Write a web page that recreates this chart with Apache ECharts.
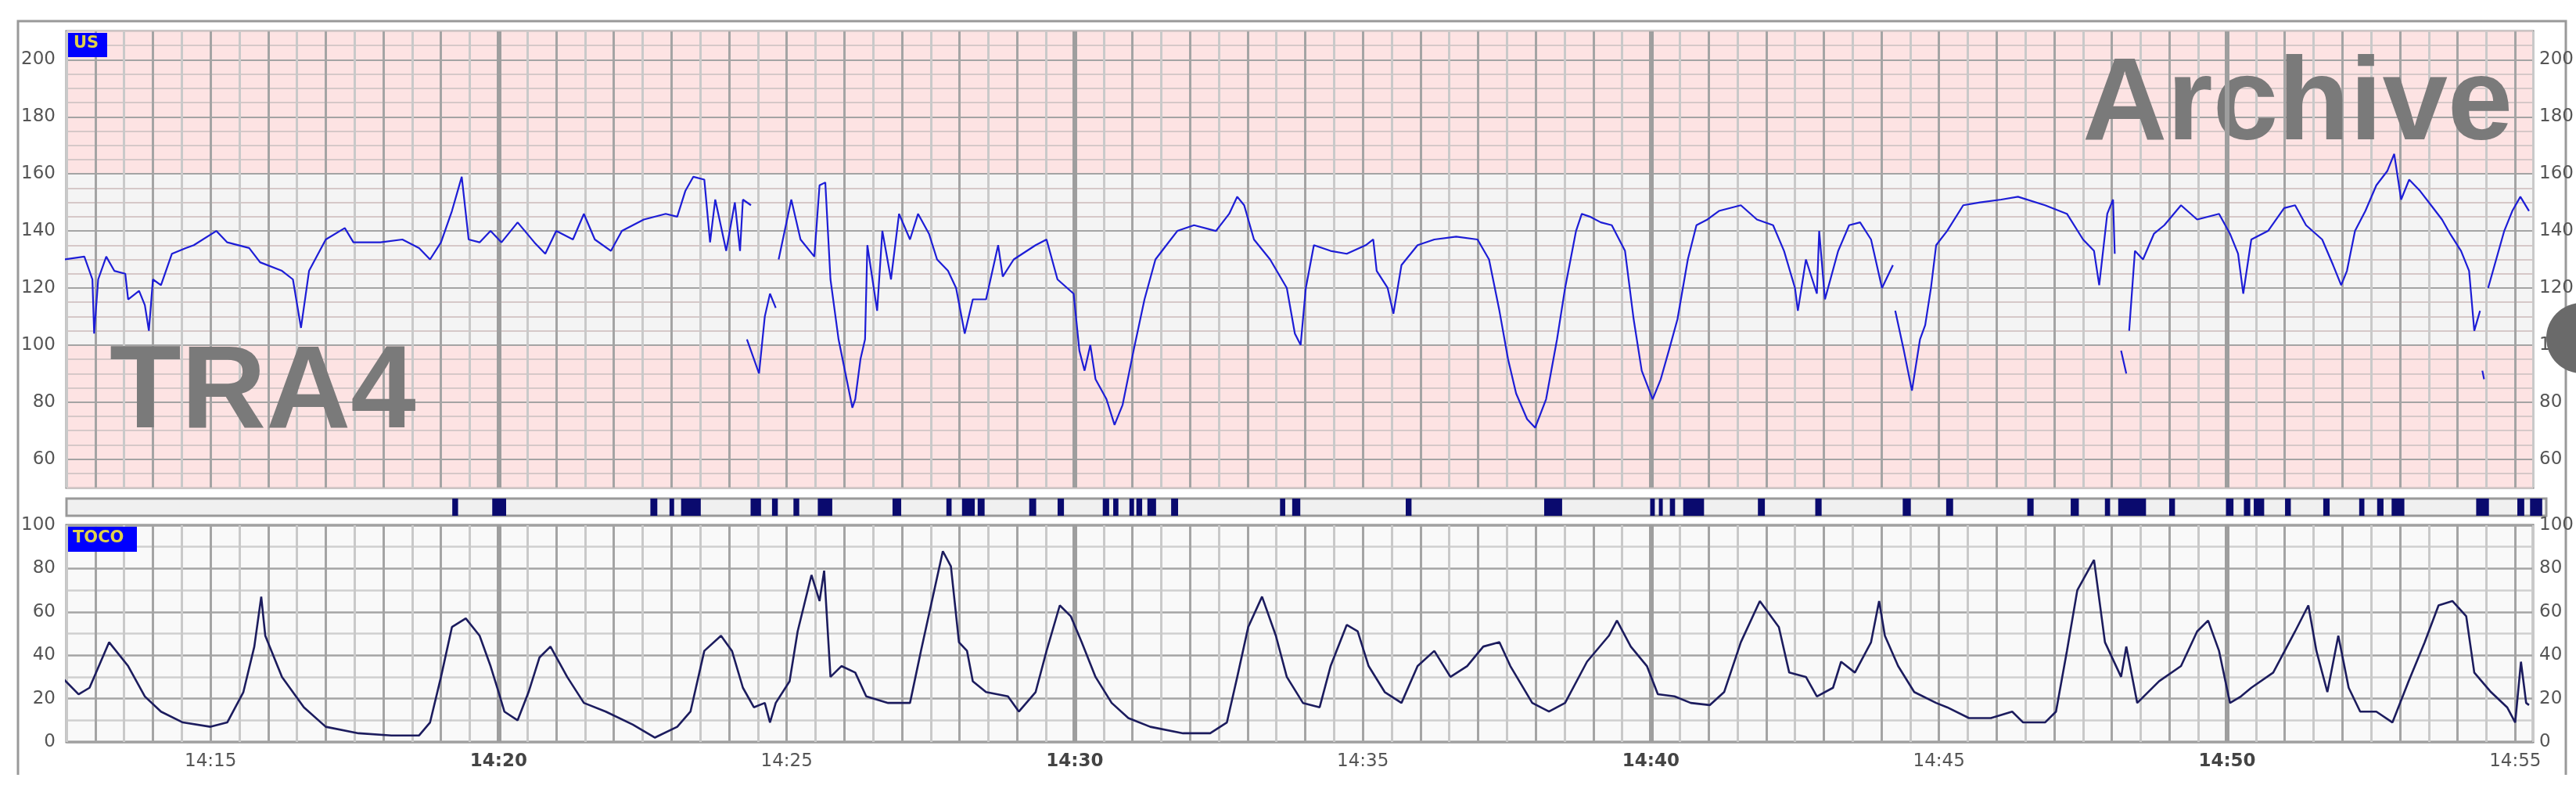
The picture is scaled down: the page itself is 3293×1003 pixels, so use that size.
<!DOCTYPE html>
<html>
<head>
<meta charset="utf-8">
<script src="https://cdn.jsdelivr.net/npm/echarts@6/dist/echarts.min.js"></script>
<style>
  html, body { margin: 0; padding: 0; background: #fff; }
  #ctg { width: 3293px; height: 1003px; }
</style>
</head>
<body>
<div id="ctg"></div>
<script>
// time = minutes after 14:00
var timeTicks = [15, 20, 25, 30, 35, 40, 45, 50, 55];
var boldTicks = [20, 30, 40, 50];
var usBands = [[50, 100, 'pink'], [100, 160, 'grey'], [160, 210, 'pink']];

// fetal heart rate (bpm), null = signal loss
var usTrace = [
  [12.45,130],[12.81,131],[12.95,123],[12.98,104],[13.05,123],[13.19,131],[13.33,126],[13.52,125],[13.57,116],[13.76,119],
  [13.86,114],[13.93,105],[14.00,123],[14.14,121],[14.33,132],[14.57,134],[14.71,135],[15.10,140],[15.29,136],[15.67,134],
  [15.86,129],[16.24,126],[16.43,123],[16.57,106],[16.71,126],[17.00,137],[17.33,141],[17.48,136],[17.95,136],[18.33,137],
  [18.62,134],[18.81,130],[19.00,136],[19.19,147],[19.36,159],[19.48,137],[19.67,136],[19.86,140],[20.05,136],[20.33,143],
  [20.62,136],[20.81,132],[21.00,140],[21.29,137],[21.48,146],[21.67,137],[21.95,133],[22.14,140],[22.52,144],[22.90,146],
  [23.10,145],[23.24,154],[23.38,159],[23.57,158],[23.67,136],[23.76,151],[23.95,133],[24.10,150],[24.19,133],[24.24,151],
  [24.38,149],[24.40,null],
  [24.31,102],[24.52,90],[24.62,110],[24.71,118],[24.81,113],[24.83,null],
  [24.86,130],[25.08,151],[25.24,137],[25.48,131],[25.57,156],[25.67,157],[25.76,123],[25.90,102],[26.14,78],
  [26.19,81],[26.28,95],[26.36,102],[26.40,135],[26.57,112],[26.66,140],[26.81,123],[26.95,146],[27.14,137],[27.28,146],
  [27.47,139],[27.61,130],[27.80,126],[27.94,120],[28.09,104],[28.23,116],[28.46,116],[28.67,135],[28.75,124],[28.94,130],
  [29.32,135],[29.51,137],[29.70,123],[29.98,118],[30.08,98],[30.17,91],[30.27,100],[30.36,88],[30.55,81],[30.69,72],
  [30.83,79],[31.02,98],[31.21,116],[31.40,130],[31.59,135],[31.78,140],[32.07,142],[32.45,140],[32.68,146],[32.82,152],
  [32.94,149],[33.11,137],[33.39,130],[33.68,120],[33.82,104],[33.92,100],[34.01,120],[34.15,135],[34.44,133],[34.72,132],
  [35.05,135],[35.18,137],[35.24,126],[35.43,120],[35.53,111],[35.67,128],[35.95,135],[36.24,137],[36.62,138],[36.99,137],
  [37.19,130],[37.37,112],[37.52,95],[37.66,83],[37.85,74],[37.99,71],[38.18,81],[38.37,102],[38.51,120],[38.70,140],
  [38.80,146],[38.94,145],[39.13,143],[39.32,142],[39.55,133],[39.70,109],[39.84,91],[40.03,81],[40.17,88],[40.31,98],
  [40.46,109],[40.64,130],[40.79,142],[40.98,144],[41.18,147],[41.56,149],[41.84,144],[42.12,142],[42.31,133],[42.50,120],
  [42.55,112],[42.69,130],[42.88,118],[42.92,140],[43.02,116],[43.25,133],[43.44,142],[43.63,143],[43.82,137],[44.01,120],
  [44.20,128],[44.22,null],
  [44.24,112],[44.39,98],[44.53,84],[44.67,102],[44.76,107],[44.86,120],[44.95,135],[45.14,140],[45.42,149],[45.71,150],
  [46.08,151],[46.37,152],[46.84,149],[47.22,146],[47.50,137],[47.69,133],[47.78,121],[47.92,146],[48.02,151],[48.05,132],
  [48.10,null],
  [48.16,98],[48.25,90],[48.27,null],
  [48.30,105],[48.40,133],[48.54,130],[48.73,139],[48.91,142],[49.20,149],[49.48,144],[49.86,146],[50.05,139],[50.19,132],
  [50.28,118],[50.42,137],[50.71,140],[50.99,148],[51.18,149],[51.37,142],[51.65,137],[51.84,128],[51.98,121],[52.08,126],
  [52.22,140],[52.40,147],[52.59,156],[52.78,161],[52.90,167],[53.02,151],[53.16,158],[53.35,154],[53.54,149],[53.73,144],
  [53.87,139],[54.06,133],[54.20,126],[54.29,105],[54.39,112],[54.41,null],
  [54.43,91],[54.46,88],[54.48,null],
  [54.53,120],[54.67,130],[54.81,140],[54.95,147],[55.09,152],[55.24,147]
];

// uterine activity (TOCO)
var tocoTrace = [
  [12.45,29],[12.71,22],[12.90,25],[13.24,46],[13.57,35],[13.86,21],[14.14,14],[14.52,9],[15.00,7],[15.29,9],
  [15.57,23],[15.76,44],[15.88,67],[15.95,49],[16.24,30],[16.62,16],[17.00,7],[17.57,4],[18.14,3],[18.62,3],
  [18.81,9],[19.00,30],[19.19,53],[19.43,57],[19.67,49],[19.86,35],[20.00,23],[20.10,14],[20.33,10],[20.52,23],
  [20.71,39],[20.90,44],[21.19,30],[21.48,18],[21.86,14],[22.33,8],[22.71,2],[23.10,7],[23.33,14],[23.57,42],
  [23.86,49],[24.05,42],[24.24,25],[24.43,16],[24.62,18],[24.71,9],[24.81,18],[25.05,28],[25.19,51],[25.43,77],
  [25.57,65],[25.65,79],[25.76,30],[25.95,35],[26.19,32],[26.38,21],[26.76,18],[27.14,18],[27.33,42],[27.52,65],
  [27.71,88],[27.85,81],[27.99,46],[28.13,42],[28.23,28],[28.46,23],[28.84,21],[29.03,14],[29.32,23],[29.51,42],
  [29.74,63],[29.93,58],[30.12,46],[30.36,30],[30.64,18],[30.93,11],[31.31,7],[31.88,4],[32.35,4],[32.64,9],
  [32.82,30],[33.01,53],[33.25,67],[33.49,49],[33.68,30],[33.96,18],[34.25,16],[34.44,35],[34.72,54],[34.91,51],
  [35.10,35],[35.38,23],[35.67,18],[35.95,35],[36.24,42],[36.52,30],[36.81,35],[37.09,44],[37.37,46],[37.56,35],
  [37.94,18],[38.23,14],[38.51,18],[38.89,37],[39.27,49],[39.41,56],[39.65,44],[39.93,35],[40.12,22],[40.41,21],
  [40.69,18],[41.02,17],[41.27,23],[41.56,46],[41.89,65],[42.22,53],[42.40,32],[42.69,30],[42.88,21],[43.16,25],
  [43.30,37],[43.54,32],[43.82,46],[43.96,65],[44.06,49],[44.29,35],[44.57,23],[44.95,18],[45.14,16],[45.52,11],
  [45.90,11],[46.27,14],[46.46,9],[46.84,9],[47.03,14],[47.22,42],[47.40,70],[47.69,84],[47.88,46],[48.16,30],
  [48.25,44],[48.44,18],[48.82,28],[49.20,35],[49.48,51],[49.67,56],[49.86,42],[50.05,18],[50.24,21],[50.42,25],
  [50.80,32],[51.18,51],[51.41,63],[51.55,42],[51.74,23],[51.93,49],[52.11,25],[52.31,14],[52.59,14],[52.87,9],
  [53.15,28],[53.43,46],[53.67,63],[53.91,65],[54.15,58],[54.29,32],[54.58,23],[54.86,16],[55.00,9],[55.10,37],
  [55.19,18],[55.24,17]
];

// fetal movement marks [start, end]
var movementMarks = [
  [19.16,19.26],[19.85,20.09],[22.58,22.70],[22.91,22.99],[23.11,23.45],[24.31,24.49],[24.68,24.78],[25.05,25.15],
  [25.47,25.72],[26.76,26.91],[27.69,27.78],[27.96,28.18],[28.23,28.35],[29.12,29.24],[29.61,29.72],[30.39,30.50],
  [30.57,30.66],[30.85,30.93],[30.97,31.07],[31.16,31.31],[31.57,31.69],[33.45,33.54],[33.66,33.80],[35.62,35.72],
  [38.01,38.32],[39.84,39.92],[39.99,40.05],[40.18,40.27],[40.41,40.77],[41.70,41.82],[42.69,42.80],[44.20,44.34],
  [44.95,45.07],[46.35,46.46],[47.10,47.24],[47.69,47.78],[47.92,48.40],[48.80,48.90],[49.78,49.91],[50.09,50.20],
  [50.26,50.44],[50.80,50.90],[51.46,51.57],[52.08,52.17],[52.39,52.50],[52.64,52.86],[54.10,54.32],[54.81,54.93],
  [55.03,55.24]
];

var T_MIN = 12.5, T_MAX = 55.31;
var font = 'DejaVu Sans';
var lbl = { color: '#555', fontSize: 23, fontFamily: font };
var thick = boldTicks.map(function (t) { return { xAxis: t }; });

// one colour per 5-bpm band, from the band table
var bandColors = [];
usBands.forEach(function (b) {
  for (var v = b[0]; v < b[1]; v += 5) bandColors.push(b[2] === 'pink' ? '#fde3e3' : '#f4f4f4');
});

function xAxisFor(gi, showLabels) {
  return {
    type: 'value', gridIndex: gi, min: T_MIN, max: T_MAX, interval: 0.5,
    axisLine: { show: false }, axisTick: { show: false },
    splitLine: { show: gi !== 1, lineStyle: { color: ['#c9c9c9', '#a4a4a4'], width: 3 } },
    axisLabel: {
      show: showLabels, showMaxLabel: false, hideOverlap: false, margin: 14,
      color: '#555', fontSize: 23, fontFamily: font,
      formatter: function (v) {
        var m = Math.round(v * 2) / 2;
        if (timeTicks.indexOf(m) < 0) return '';
        var s = '14:' + m;
        return boldTicks.indexOf(m) >= 0 ? '{b|' + s + '}' : s;
      },
      rich: { b: { fontWeight: 'bold', color: '#444', fontSize: 23, fontFamily: font } }
    }
  };
}

function yLabels(step, lo, hi) {
  return function (v) { return (v % step === 0 && v >= lo && v <= hi) ? String(v) : ''; };
}

var chart = echarts.init(document.getElementById('ctg'));
chart.setOption({
  animation: false,
  backgroundColor: '#ffffff',
  grid: [
    { left: 85, right: 38, top: 40, height: 583, show: true, borderColor: '#888', borderWidth: 3, backgroundColor: 'transparent' },
    { left: 85, right: 38, top: 637, height: 22, show: true, borderColor: '#999', borderWidth: 3, backgroundColor: '#f0f0f0' },
    { left: 85, right: 38, top: 671, height: 277, show: true, borderColor: '#888', borderWidth: 3, backgroundColor: '#f9f9f9' }
  ],
  xAxis: [xAxisFor(0, false), xAxisFor(1, false), xAxisFor(2, true)],
  yAxis: [
    { type: 'value', gridIndex: 0, min: 50, max: 210, interval: 5, axisLine: { show: false }, axisTick: { show: false },
      splitArea: { show: true, areaStyle: { color: bandColors } },
      splitLine: { lineStyle: { color: ['#d6c8c8', '#d6c8c8', '#a4a4a4', '#d6c8c8'], width: 2 } },
      axisLabel: Object.assign({ formatter: yLabels(20, 60, 200), margin: 14, showMaxLabel: false }, lbl) },
    { type: 'value', gridIndex: 0, position: 'right', min: 50, max: 210, interval: 5, axisLine: { show: false }, axisTick: { show: false },
      splitLine: { show: false }, axisLabel: Object.assign({ formatter: yLabels(20, 60, 200), margin: 8, showMaxLabel: false }, lbl) },
    { type: 'value', gridIndex: 1, min: 0, max: 1, show: false },
    { type: 'value', gridIndex: 2, min: 0, max: 100, interval: 10, axisLine: { show: false }, axisTick: { show: false },
      splitLine: { lineStyle: { color: ['#a4a4a4', '#cfcfcf'], width: 2.5 } },
      axisLabel: Object.assign({ formatter: yLabels(20, 0, 100), margin: 14 }, lbl) },
    { type: 'value', gridIndex: 2, position: 'right', min: 0, max: 100, interval: 10, axisLine: { show: false }, axisTick: { show: false },
      splitLine: { show: false }, axisLabel: Object.assign({ formatter: yLabels(20, 0, 100), margin: 8 }, lbl) }
  ],
  series: [
    {
      name: 'US', type: 'line', xAxisIndex: 0, yAxisIndex: 0, data: usTrace, showSymbol: false, connectNulls: false,
      lineStyle: { color: '#1d1dd6', width: 2.2 }, z: 5,
      markLine: { silent: true, symbol: 'none', label: { show: false }, lineStyle: { color: '#9e9e9e', width: 6, type: 'solid' }, data: thick }
    },
    {
      name: 'Movement', type: 'custom', xAxisIndex: 1, yAxisIndex: 2, data: movementMarks,
      renderItem: function (params, api) {
        var a = api.coord([api.value(0), 0]);
        var b = api.coord([api.value(1), 1]);
        return { type: 'rect', shape: { x: a[0], y: b[1], width: Math.max(b[0] - a[0], 5), height: a[1] - b[1] },
                 style: { fill: '#0a0a6e' } };
      }
    },
    {
      name: 'TOCO', type: 'line', xAxisIndex: 2, yAxisIndex: 3, data: tocoTrace, showSymbol: false,
      lineStyle: { color: '#1c1c5e', width: 2.6 }, z: 5,
      markLine: { silent: true, symbol: 'none', label: { show: false }, lineStyle: { color: '#9e9e9e', width: 6, type: 'solid' }, data: thick }
    }
  ],
  graphic: [
    { type: 'polyline', shape: { points: [[23, 990], [23, 27], [3280, 27], [3280, 990]] }, style: { stroke: '#999', lineWidth: 3, fill: null }, silent: true },
    { type: 'rect', shape: { x: 87, y: 42, width: 50, height: 31 }, style: { fill: '#0000ff' }, z: 10 },
    { type: 'text', x: 94, y: 45, style: { text: 'US', fill: '#e0d24a', font: 'bold 21px "DejaVu Sans"' }, z: 11 },
    { type: 'rect', shape: { x: 87, y: 673, width: 88, height: 32 }, style: { fill: '#0000ff' }, z: 10 },
    { type: 'text', x: 93, y: 677, style: { text: 'TOCO', fill: '#e0d24a', font: 'bold 21px "DejaVu Sans"' }, z: 11 },
    { type: 'text', x: 140, y: 430, style: { text: 'TRA4', fill: '#7a7a7a', font: 'bold 150px "Liberation Sans"' }, z: 4 },
    { type: 'text', x: 2662, y: 62, style: { text: 'Archive', fill: '#7a7a7a', font: 'bold 150px "Liberation Sans"' }, z: 4 },
    { type: 'circle', shape: { cx: 3300, cy: 432, r: 45 }, style: { fill: '#6a6a6a' }, z: 12 }
  ]
});
</script>
</body>
</html>
